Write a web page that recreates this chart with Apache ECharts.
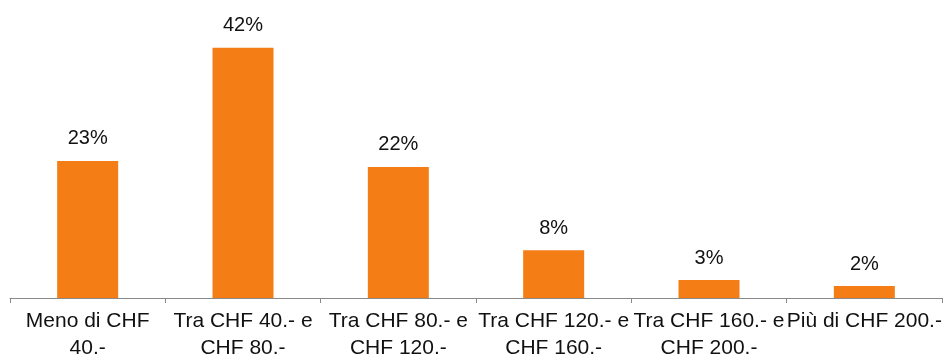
<!DOCTYPE html>
<html>
<head>
<meta charset="utf-8">
<script src="https://cdn.jsdelivr.net/npm/echarts@6/dist/echarts.min.js"></script>
<style>
  html, body { margin: 0; padding: 0; background: #ffffff; }
  #chart { width: 946px; height: 358px; }
</style>
</head>
<body>
<div id="chart"></div>
<script>
// Price ranges (line breaks as they wrap under each bar)
const categories = [
  'Meno di CHF\n40.-',
  'Tra CHF 40.- e\nCHF 80.-',
  'Tra CHF 80.- e\nCHF 120.-',
  'Tra CHF 120.- e\nCHF 160.-',
  'Tra CHF 160.- e\nCHF 200.-',
  'Più di CHF 200.-'
];
// Share of respondents, percent
const shares = [23, 42, 22, 8, 3, 2];

const chart = echarts.init(document.getElementById('chart'));
chart.setOption({
  animation: false,
  grid: { left: 10, right: 4, top: 0, bottom: 60, containLabel: false, outerBoundsMode: 'none' },
  xAxis: {
    type: 'category',
    data: categories,
    axisLine: { lineStyle: { color: '#8a8a8a', width: 1 } },
    axisTick: { show: true, length: 5, lineStyle: { color: '#8a8a8a' } },
    axisLabel: {
      interval: 0,
      margin: 10,
      color: '#111111',
      fontFamily: 'Liberation Sans, Arial, sans-serif',
      fontSize: 21,
      lineHeight: 27
    }
  },
  yAxis: {
    type: 'value',
    min: 0,
    max: 50,
    show: false,
    splitLine: { show: false }
  },
  series: [{
    type: 'bar',
    data: shares,
    barWidth: 61,
    itemStyle: { color: '#F47D16' },
    label: {
      show: true,
      position: 'top',
      distance: 12,
      formatter: '{c}%',
      color: '#111111',
      fontFamily: 'Liberation Sans, Arial, sans-serif',
      fontSize: 20
    }
  }]
});
</script>
</body>
</html>
